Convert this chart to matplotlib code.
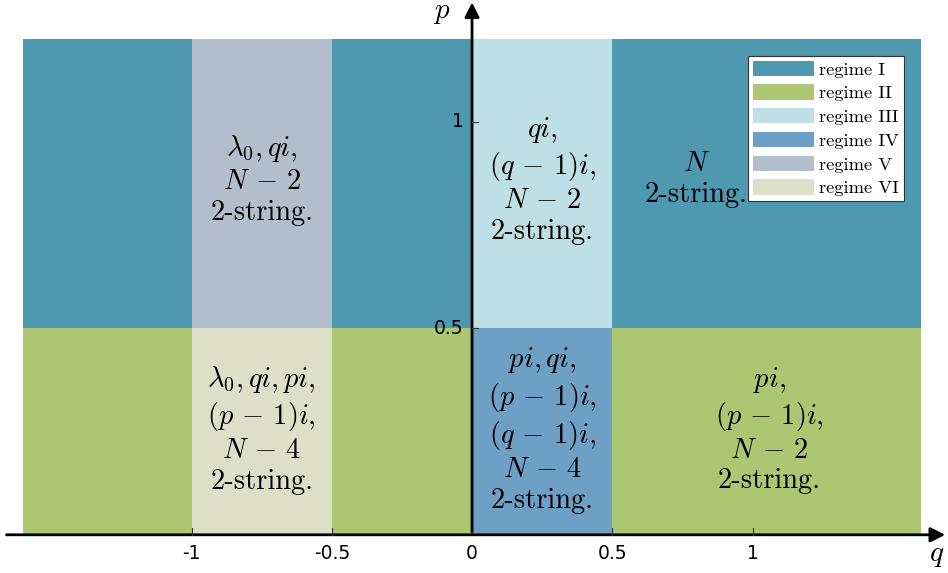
import matplotlib.pyplot as plt
from matplotlib.patches import Patch

plt.rcParams['mathtext.fontset'] = 'cm'

# regime colours and names
regimes = ['regime I', 'regime II', 'regime III', 'regime IV', 'regime V', 'regime VI']
colors = ['#4F99B0', '#ACC672', '#BDDFE5', '#6E9FC4', '#B2BECB', '#DEDFC8']

# rectangles: (q0, q1, p0, p1, regime index)
q_edges = [-1.6, -1.0, -0.5, 0.0, 0.5, 1.6]
top_row = [0, 4, 0, 2, 0]      # p in [0.5, 1.2]
bottom_row = [1, 5, 1, 3, 1]   # p in [0, 0.5]
p_edges = [0.0, 0.5, 1.2]

# region labels: (q, p, text)
labels = [
    (-0.75, 0.86, '$\\lambda_0, qi,$\n$N \\,-\\, 2$\n2-string.'),
    (0.25, 0.86, '$qi,$\n$(q \\,-\\, 1)i,$\n$N \\,-\\, 2$\n2-string.'),
    (0.80, 0.86, '$N$\n2-string.'),
    (-0.75, 0.255, '$\\lambda_0, qi, pi,$\n$(p \\,-\\, 1)i,$\n$N \\,-\\, 4$\n2-string.'),
    (0.25, 0.255, '$pi, qi,$\n$(p \\,-\\, 1)i,$\n$(q \\,-\\, 1)i,$\n$N \\,-\\, 4$\n2-string.'),
    (1.06, 0.255, '$pi,$\n$(p \\,-\\, 1)i,$\n$N \\,-\\, 2$\n2-string.'),
]

xticks = [-1, -0.5, 0, 0.5, 1]
xticklabels = ['-1', '-0.5', '0', '0.5', '1']
yticks = [0.5, 1]
yticklabels = ['0.5', '1']

fig = plt.figure(figsize=(9.48, 5.73), dpi=100)
ax = fig.add_axes([0, 0, 1, 1])
ax.set_xlim(-1.683, 1.697)
ax.set_ylim(-0.0925, 1.295)
ax.axis('off')

for i in range(len(q_edges) - 1):
    for (p0, p1, reg) in [(p_edges[1], p_edges[2], top_row[i]), (p_edges[0], p_edges[1], bottom_row[i])]:
        ax.fill_between([q_edges[i], q_edges[i + 1]], p0, p1, color=colors[reg], lw=0, zorder=1)

for q, p, t in labels:
    ax.text(q, p, t, ha='center', va='center', fontsize=20.5, family='cmr10',
            linespacing=1.22, zorder=3)

# axes with arrows
ax.annotate('', xy=(1.697, 0), xytext=(-1.67, 0),
            arrowprops=dict(arrowstyle='-|>', lw=2, color='black', mutation_scale=22), zorder=4)
ax.annotate('', xy=(0, 1.296), xytext=(0, 0),
            arrowprops=dict(arrowstyle='-|>', lw=2, color='black', mutation_scale=22), zorder=4)

# tick marks and labels
for x, s in zip(xticks, xticklabels):
    if x != 0:
        ax.plot([x, x], [0, 0.016], color='#333333', lw=0.8, zorder=4)
    ax.text(x, -0.045, s, ha='center', va='center', fontsize=13.5, family='Liberation Sans Narrow')
for y, s in zip(yticks, yticklabels):
    ax.plot([0, 0.022], [y, y], color='#333333', lw=0.8, zorder=4)
    ax.text(-0.03, y, s, ha='right', va='center', fontsize=13.5, family='Liberation Sans Narrow')

ax.text(1.655, -0.05, '$q$', ha='center', va='center', fontsize=21)
ax.text(-0.11, 1.265, '$p$', ha='center', va='center', fontsize=21)

handles = [Patch(facecolor=c, edgecolor='none') for c in colors]
leg = ax.legend(handles, regimes, loc='upper left', bbox_to_anchor=(0.789, 0.903),
                prop={'family': 'cmr10', 'size': 13.3}, frameon=True, fancybox=False,
                framealpha=1, edgecolor='#333333', handlelength=3.3, handleheight=0.9,
                labelspacing=0.36, handletextpad=0.25, borderpad=0.28, borderaxespad=0)
leg.get_frame().set_linewidth(0.8)
leg.set_zorder(5)

fig.savefig('out.png', dpi=100)
